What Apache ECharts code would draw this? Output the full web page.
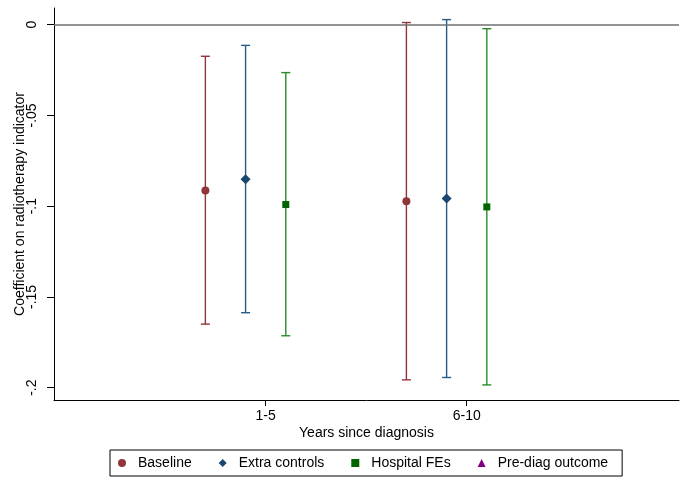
<!DOCTYPE html>
<html>
<head>
<meta charset="utf-8">
<script src="https://cdn.jsdelivr.net/npm/echarts@6/dist/echarts.min.js"></script>
<style>
  html, body { margin: 0; padding: 0; background: #fff; }
  #main { width: 688px; height: 481px; }
</style>
</head>
<body>
<div id="main"></div>
<script>
// categories on the x axis
var categories = ['1-5', '6-10'];
var seriesNames = ['Baseline', 'Extra controls', 'Hospital FEs', 'Pre-diag outcome'];

// point estimates and 95% CI bounds, one value per category
var baselineEst = [-0.0914, -0.0973];
var baselineLo = [-0.1650, -0.1957];
var baselineHi = [-0.0174, 0.0012];

var extraEst = [-0.0851, -0.0958];
var extraLo = [-0.1587, -0.1944];
var extraHi = [-0.0114, 0.0028];

var hospitalEst = [-0.0991, -0.1004];
var hospitalLo = [-0.1714, -0.1985];
var hospitalHi = [-0.0264, -0.0022];

// no estimates shown for this one, only in the legend
var prediagEst = [];
var prediagLo = [];
var prediagHi = [];

var yTickValues = [0, -0.05, -0.1, -0.15, -0.2];
var yTickLabels = ['0', '-.05', '-.1', '-.15', '-.2'];

var FONT = "'Liberation Sans', Arial, sans-serif";

var groups = [
    {est: baselineEst, lo: baselineLo, hi: baselineHi, symbol: 'circle', size: 8, mcolor: '#90353B', lcolor: '#90353B'},
    {est: extraEst, lo: extraLo, hi: extraHi, symbol: 'diamond', size: 10, mcolor: '#1A476F', lcolor: '#2B5A85'},
    {est: hospitalEst, lo: hospitalLo, hi: hospitalHi, symbol: 'rect', size: 7, mcolor: '#006400', lcolor: '#2A8A2A'},
    {est: prediagEst, lo: prediagLo, hi: prediagHi, symbol: 'triangle', size: 8, mcolor: '#800080', lcolor: '#800080'}
];
var offsets = [-0.3, -0.1, 0.1, 0.3];

var series = [];
groups.forEach(function (g, gi) {
    var barData = [];
    var pointData = [];
    g.est.forEach(function (v, i) {
        var x = i + 1 + offsets[gi];
        barData.push([x, g.lo[i], g.hi[i]]);
        pointData.push([x, v]);
    });
    series.push({
        type: 'custom',
        name: seriesNames[gi] + ' CI',
        silent: true,
        z: 2,
        data: barData,
        renderItem: function (params, api) {
            var x = api.value(0);
            var lo = api.coord([x, api.value(1)]);
            var hi = api.coord([x, api.value(2)]);
            var hw = 4.5;
            var style = {stroke: g.lcolor, lineWidth: 1.4, fill: null};
            return {
                type: 'group',
                children: [
                    {type: 'line', shape: {x1: lo[0], y1: lo[1], x2: hi[0], y2: hi[1]}, style: style},
                    {type: 'line', shape: {x1: lo[0] - hw, y1: lo[1], x2: lo[0] + hw, y2: lo[1]}, style: style},
                    {type: 'line', shape: {x1: hi[0] - hw, y1: hi[1], x2: hi[0] + hw, y2: hi[1]}, style: style}
                ]
            };
        }
    });
    series.push({
        type: 'scatter',
        name: seriesNames[gi],
        symbol: g.symbol,
        symbolSize: g.size,
        z: 3,
        itemStyle: {color: g.mcolor, opacity: 1},
        data: pointData
    });
});

// horizontal reference line at zero
series[0].markLine = {
    silent: true,
    symbol: 'none',
    label: {show: false},
    lineStyle: {color: '#707070', width: 1.6, type: 'solid'},
    data: [{yAxis: 0}],
    animation: false
};

var myChart = echarts.init(document.getElementById('main'));
myChart.setOption({
    animation: false,
    backgroundColor: '#fff',
    textStyle: {fontFamily: FONT},
    grid: {left: 54, right: 9, top: 8, bottom: 81, containLabel: false, outerBoundsMode: 'none'},
    legend: {
        data: [
            {name: 'Baseline', icon: 'circle', itemStyle: {color: '#90353B'}},
            {name: 'Extra controls', icon: 'diamond', itemStyle: {color: '#1A476F'}},
            {name: 'Hospital FEs', icon: 'rect', itemStyle: {color: '#006400'}},
            {name: 'Pre-diag outcome', icon: 'triangle', itemStyle: {color: '#800080'}}
        ],
        left: 110,
        top: 450,
        orient: 'horizontal',
        itemWidth: 8,
        itemHeight: 8,
        itemGap: 27,
        padding: [6, 14, 6, 8],
        borderColor: '#000',
        borderWidth: 1,
        selectedMode: false,
        textStyle: {fontFamily: FONT, fontSize: 14, color: '#000', padding: [0, 0, 0, 7]}
    },
    xAxis: {
        type: 'value',
        min: -0.053,
        max: 3.056,
        name: 'Years since diagnosis',
        nameLocation: 'middle',
        nameGap: 26,
        nameMoveOverlap: false,
        nameTextStyle: {fontFamily: FONT, fontSize: 14, color: '#000'},
        axisLine: {show: true, onZero: false, lineStyle: {color: '#000', width: 1}},
        axisTick: {show: true, customValues: [1, 2], length: 6, lineStyle: {color: '#000'}},
        axisLabel: {
            customValues: [1, 2],
            margin: 9,
            fontFamily: FONT,
            fontSize: 14,
            color: '#000',
            formatter: function (v) { return categories[Math.round(v) - 1] || ''; }
        },
        splitLine: {show: false}
    },
    yAxis: {
        type: 'value',
        min: -0.2068,
        max: 0.0092,
        name: 'Coefficient on radiotherapy indicator',
        nameLocation: 'middle',
        nameGap: 27,
        nameMoveOverlap: false,
        nameRotate: 90,
        nameTextStyle: {fontFamily: FONT, fontSize: 14, color: '#000'},
        axisLine: {show: true, onZero: false, lineStyle: {color: '#000', width: 1}},
        axisTick: {show: true, customValues: yTickValues, length: 7, lineStyle: {color: '#000'}},
        axisLabel: {
            customValues: yTickValues,
            rotate: 90,
            margin: 15,
            fontFamily: FONT,
            fontSize: 14,
            color: '#000',
            formatter: function (v) {
                var idx = yTickValues.findIndex(function (t) { return Math.abs(t - v) < 1e-9; });
                return idx >= 0 ? yTickLabels[idx] : '';
            }
        },
        splitLine: {show: false}
    },
    series: series
});
</script>
</body>
</html>
